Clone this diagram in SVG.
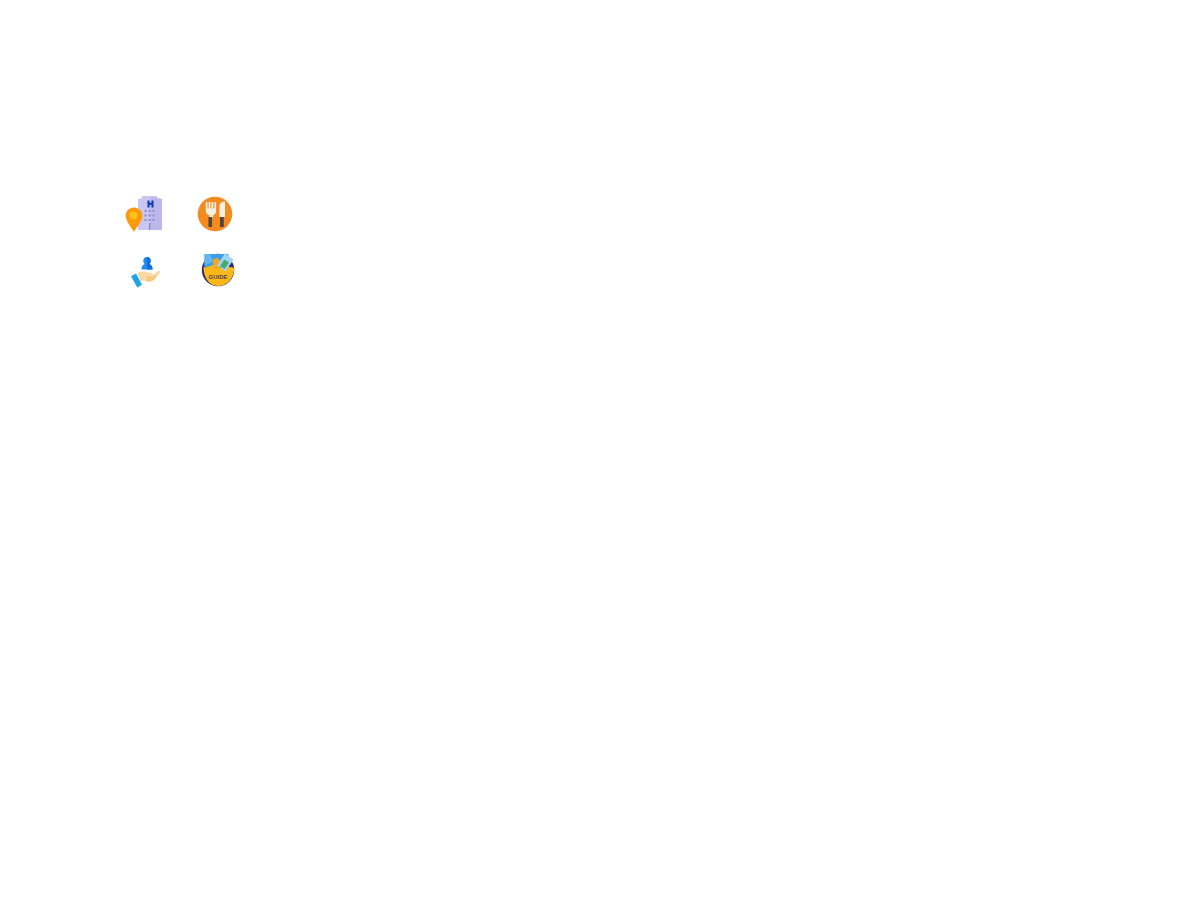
<svg xmlns="http://www.w3.org/2000/svg" width="1200" height="900" viewBox="0 0 1200 900">
<style>.guide{font-family:"Liberation Sans",Arial,sans-serif;font-size:6px;font-weight:700;fill:#4a3f5c;text-anchor:middle}</style>
<rect width="1200" height="900" fill="#ffffff"/>
<g id="hotel">
<path d="M138 199l4-1v-2h15v2l5 1v31h-24z" fill="#c9c6f2"/>
<path d="M150 197h7v1l5 1v31h-12z" fill="#bdb8ec"/>
<path d="M147.500 200.500h2v2.300h2v-2.300h2v7h-2v-2.700h-2v2.700h-2z" fill="#0b3bb0"/>
<g fill="#8f8bd0"><rect x="144.500" y="210" width="2" height="2"/><rect x="148.500" y="210" width="2" height="2"/><rect x="152.500" y="210" width="2" height="2"/><rect x="144.500" y="214.500" width="2" height="2"/><rect x="148.500" y="214.500" width="2" height="2"/><rect x="152.500" y="214.500" width="2" height="2"/><rect x="144.500" y="219" width="2" height="2"/><rect x="148.500" y="219" width="2" height="2"/><rect x="152.500" y="219" width="2" height="2"/><rect x="149" y="223" width="1.500" height="7"/></g>
<path d="M134 207.500c4.700 0 8.300 3.600 8.300 8.200 0 5.500-5.300 10.800-8.300 16.300-3-5.500-8.300-10.800-8.300-16.300 0-4.600 3.600-8.200 8.300-8.200z" fill="#fa9a0a"/>
<circle cx="133.500" cy="215.500" r="4" fill="#fdc21a"/>
</g>
<g id="restaurant">
<circle cx="215" cy="214" r="17.300" fill="#f58a1f"/>
<path d="M205.800 202h1.700v6.500h1.100v-6.500h1.800v6.500h1.100v-6.500h1.800v6.500h1.100v-6.500h1.700v9c0 2.500-1.900 3.800-3 4.300v2h-3.600v-2c-1.400-.5-3.700-1.800-3.700-4.300z" fill="#f6f1e6"/>
<rect x="208.500" y="217" width="3.500" height="10" fill="#544340"/>
<path d="M219.500 217v-11c0-2.500 2.500-4.500 5.500-4.500v15.500z" fill="#f6f1e6"/>
<rect x="220" y="217" width="3.800" height="10" fill="#544340"/>
</g>
<g id="service">
<path d="M147 257c2.300 0 3.700 1.700 3.700 3.900 0 1.400-.6 2.500-1.500 3.200 2.300.7 3.300 2.500 3.300 5.400h-11c0-2.900 1-4.700 3.300-5.400-.9-.7-1.500-1.800-1.500-3.200 0-2.200 1.400-3.900 3.700-3.900z" fill="#1a8cf0"/>
<path d="M147 257c2.300 0 3.700 1.700 3.700 3.900 0 1.400-.6 2.500-1.500 3.200 2.300.7 3.300 2.500 3.300 5.400h-5.500z" fill="#0f6fdc"/>
<path d="M137.500 273c2-1.500 5-2 8-1.300l6 1.200c1.500.4 1.500 2.600 0 2.800l-3.500.3h2.500l4.500-2.800 3-2.200c1-.6 2.700.3 2 1.600l-4.500 6c-.9 1.200-2 2-3.500 2h-8.500c-1.200 0-2.300.5-3.300 1z" fill="#fbd9a5"/>
<path d="M146 276.200h8.500l3-1.700-3.500 5c-.9 1.200-2 2-3.500 2h-5.500c1.800-1.200 2.700-3 1-5.300z" fill="#fbc77b"/>
<path d="M131 276.300l5-2.800 6 11.200-4.700 2.800z" fill="#1da5e5"/>
</g>
<g id="guide">
<circle cx="218" cy="270" r="16.200" fill="#2e2a6e"/>
<path d="M204.500 254h24v13h-24z" fill="#3f9fe6"/>
<path d="M204.500 254h5l4 7-9 5z" fill="#62b7ef"/>
<path d="M203.500 267c5 1 9-2 12.500-4l4 5c4 0 10-2 14.200 0 0 10-7 18-16.200 18s-14.500-9-14.500-19z" fill="#fbb817"/>
<path d="M212.800 263a3.800 3.800 0 1 1 7.400 0l-3 6.500h-1.500z" fill="#f6a623"/>
<path d="M225 253.500l8.500 6.200-8 11.500-8.500-6z" fill="#9fd6f5"/>
<path d="M224.500 259.500l4.500 3-4.500 6.500-4.500-3z" fill="#4aa96a"/>
<text class="guide" x="218" y="279.300">GUIDE</text>
</g>
</svg>
